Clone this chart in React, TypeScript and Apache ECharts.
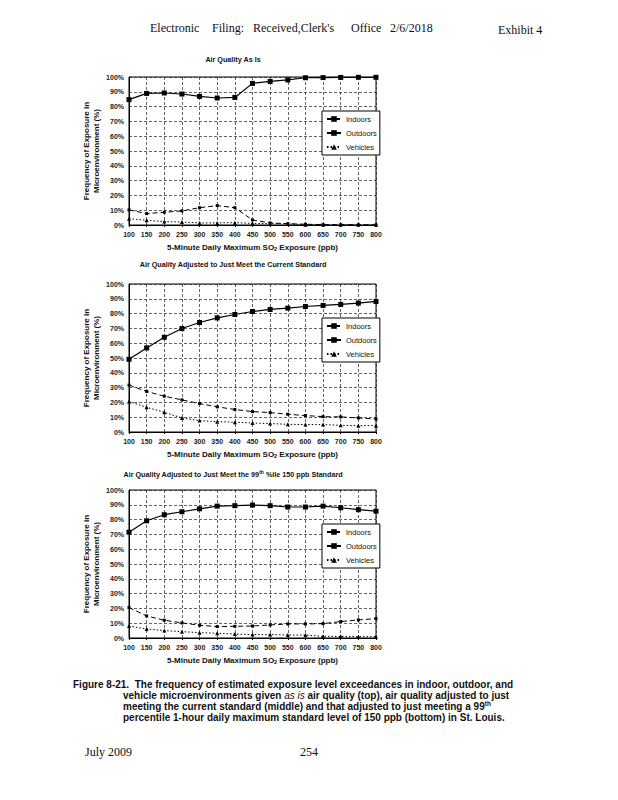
import React, { useEffect, useRef } from "react";
import * as echarts from "echarts";

const xValues = [100, 150, 200, 250, 300, 350, 400, 450, 500, 550, 600, 650, 700, 750, 800];
const seriesNames = ["Indoors", "Outdoors", "Vehicles"];
const chartTitles = [
  "Air Quality As Is",
  "Air Quality Adjusted to Just Meet the Current Standard",
  "Air Quality Adjusted to Just Meet the 99{sup|th} %ile 150 ppb Standard",
];

// Air quality as is
const asIsIndoors = [10.2, 7.7, 8.6, 9.5, 11.7, 13.1, 11.7, 3.4, 1.4, 0.9, 0.5, 0.3, 0.2, 0.2, 0.1];
const asIsOutdoors = [84.7, 88.9, 89.2, 88.5, 86.9, 85.8, 86.2, 95.7, 97.0, 98.0, 99.5, 99.6, 99.7, 99.8, 99.8];
const asIsVehicles = [4.3, 3.2, 2.3, 2.0, 1.4, 1.4, 1.6, 1.1, 0.9, 0.7, 0.2, 0.1, 0.1, 0.1, 0.1];

// Adjusted to current standard
const curIndoors = [31.7, 27.4, 24.2, 21.7, 19.2, 17.0, 15.2, 13.8, 13.1, 12.0, 11.1, 10.4, 10.2, 9.5, 8.8];
const curOutdoors = [49.1, 56.8, 64.0, 69.9, 74.0, 77.1, 79.4, 81.4, 82.8, 83.7, 84.8, 85.5, 86.2, 87.1, 88.2];
const curVehicles = [20.6, 16.7, 13.3, 9.5, 7.7, 7.0, 6.6, 6.1, 5.7, 5.2, 5.0, 5.0, 4.5, 4.3, 4.3];

// Adjusted to 99th %ile 150 ppb standard
const altIndoors = [20.6, 14.9, 12.0, 10.2, 8.6, 7.7, 7.9, 8.1, 8.8, 9.5, 9.5, 9.7, 11.1, 12.2, 13.1];
const altOutdoors = [71.5, 79.2, 83.3, 85.3, 87.3, 89.1, 89.4, 89.8, 89.4, 88.5, 88.5, 89.1, 88.0, 86.7, 85.7];
const altVehicles = [8.1, 6.1, 5.0, 4.3, 3.6, 3.2, 2.7, 2.3, 2.3, 2.0, 2.0, 1.1, 1.1, 0.9, 0.9];

const panels = [
  [asIsIndoors, asIsOutdoors, asIsVehicles],
  [curIndoors, curOutdoors, curVehicles],
  [altIndoors, altOutdoors, altVehicles],
];

const SANS = "'Liberation Sans', Arial, sans-serif";
const SERIF = "'Liberation Serif', 'Times New Roman', serif";

export default function App() {
  const ref = useRef<HTMLDivElement>(null);

  useEffect(() => {
    if (!ref.current) return;
    const chart = echarts.init(ref.current, null, { renderer: "svg" });

    const gridTops = [77, 284, 490];
    const gridLeft = 129;
    const gridW = 247;
    const gridH = 148;

    const grids: any[] = [];
    const xAxes: any[] = [];
    const yAxes: any[] = [];
    const series: any[] = [];
    const legends: any[] = [];
    const titles: any[] = [];

    gridTops.forEach((top, gi) => {
      grids.push({
        left: gridLeft,
        top,
        width: gridW,
        height: gridH,
        show: true,
        borderColor: "#000",
        borderWidth: 1,
        backgroundColor: "transparent",
      });
      xAxes.push({
        gridIndex: gi,
        type: "value",
        min: 100,
        max: 800,
        interval: 50,
        axisLine: { show: true, lineStyle: { color: "#000", width: 1 } },
        axisTick: { show: true, length: 2, lineStyle: { color: "#000" } },
        axisLabel: {
          fontSize: 7,
          fontWeight: "bold",
          color: "#222",
          fontFamily: SANS,
          margin: 6,
        },
        splitLine: { show: true, lineStyle: { color: "#222", type: [3, 2], width: 0.7 } },
        name: "5-Minute Daily Maximum SO{sub|2} Exposure (ppb)",
        nameLocation: "middle",
        nameGap: 17,
        nameTextStyle: {
          fontSize: 8,
          fontWeight: "bold",
          color: "#111",
          fontFamily: SANS,
          rich: {
            sub: { fontSize: 5.5, fontWeight: "bold", fontFamily: SANS, color: "#111", padding: [4, 0, 0, 0] },
          },
        },
      });
      yAxes.push({
        gridIndex: gi,
        type: "value",
        min: 0,
        max: 100,
        interval: 10,
        axisLine: { show: true, lineStyle: { color: "#000", width: 1 } },
        axisTick: { show: false },
        axisLabel: {
          formatter: "{value}%",
          fontSize: 7,
          fontWeight: "bold",
          color: "#222",
          fontFamily: SANS,
          margin: 5,
        },
        splitLine: { show: true, lineStyle: { color: "#222", type: [3, 2], width: 0.7 } },
        name: "Frequency of Exposure in\nMicroenvironment (%)",
        nameLocation: "middle",
        nameRotate: 90,
        nameGap: 28,
        nameTextStyle: {
          fontSize: 8,
          fontWeight: "bold",
          color: "#111",
          fontFamily: SANS,
          lineHeight: 10,
        },
      });
      const [ind, out, veh] = panels[gi];
      series.push(
        {
          name: seriesNames[0],
          type: "line",
          xAxisIndex: gi,
          yAxisIndex: gi,
          data: xValues.map((x, i) => [x, ind[i]]),
          symbol: "rect",
          symbolSize: 3,
          itemStyle: { color: "#000" },
          lineStyle: { color: "#000", width: 1, type: [5, 3] },
        },
        {
          name: seriesNames[1],
          type: "line",
          xAxisIndex: gi,
          yAxisIndex: gi,
          data: xValues.map((x, i) => [x, out[i]]),
          symbol: "rect",
          symbolSize: 5,
          itemStyle: { color: "#000" },
          lineStyle: { color: "#000", width: 1.2, type: "solid" },
        },
        {
          name: seriesNames[2],
          type: "line",
          xAxisIndex: gi,
          yAxisIndex: gi,
          data: xValues.map((x, i) => [x, veh[i]]),
          symbol: "triangle",
          symbolSize: 4,
          itemStyle: { color: "#000" },
          lineStyle: { color: "#000", width: 1, type: [1.5, 2] },
        }
      );
      legends.push({
        data: seriesNames,
        orient: "vertical",
        left: 322,
        top: top + 34,
        padding: [4, 3, 4, 4],
        itemGap: 6,
        itemWidth: 14,
        itemHeight: 7,
        backgroundColor: "#fff",
        borderColor: "#000",
        borderWidth: 1,
        selectedMode: false,
        textStyle: { fontSize: 7.5, color: "#111", fontFamily: SANS },
      });
      titles.push({
        text: chartTitles[gi],
        left: 228,
        textAlign: "center",
        top: [51, 256, 464][gi],
        textStyle: {
          fontSize: 7.2,
          fontWeight: "bold",
          color: "#111",
          fontFamily: SANS,
          rich: {
            sup: { fontSize: 5, fontWeight: "bold", fontFamily: SANS, color: "#111", padding: [0, 0, 5, 0] },
          },
        },
      });
    });

    const hdr = (text: string, x: number, y: number, size = 12) => ({
      type: "text",
      x,
      y,
      style: { text, fontSize: size, fontFamily: SERIF, fill: "#111", textVerticalAlign: "middle" },
    });

    const captionStyle = {
      fontSize: 10,
      fontWeight: "bold",
      fontFamily: SANS,
      fill: "#111",
      textVerticalAlign: "middle",
    };

    const graphic: any[] = [
      hdr("Electronic", 150, 28),
      hdr("Filing:", 212, 28),
      hdr("Received,Clerk's", 253, 28),
      hdr("Office", 351, 28),
      hdr("2/6/2018", 390, 28),
      hdr("Exhibit 4", 498, 30),
      hdr("July 2009", 85, 752),
      hdr("254", 300, 752),
      {
        type: "text",
        x: 73,
        y: 684,
        style: {
          ...captionStyle,
          text: "Figure 8-21.  The frequency of estimated exposure level exceedances in indoor, outdoor, and",
        },
      },
      {
        type: "text",
        x: 123,
        y: 695,
        style: {
          ...captionStyle,
          text: "vehicle microenvironments given {i|as is} air quality (top), air quality adjusted to just",
          rich: { i: { fontSize: 10, fontWeight: "normal", fontStyle: "italic", fontFamily: SANS, fill: "#111" } },
        },
      },
      {
        type: "text",
        x: 123,
        y: 706,
        style: {
          ...captionStyle,
          text: "meeting the current standard (middle) and that adjusted to just meeting a 99{sup|th}",
          rich: { sup: { fontSize: 6.5, fontWeight: "bold", fontFamily: SANS, fill: "#111", padding: [0, 0, 6, 0] } },
        },
      },
      {
        type: "text",
        x: 123,
        y: 717,
        style: {
          ...captionStyle,
          text: "percentile 1-hour daily maximum standard level of 150 ppb (bottom) in St. Louis.",
        },
      },
    ];

    chart.setOption({
      animation: false,
      backgroundColor: "#fff",
      title: titles,
      grid: grids,
      xAxis: xAxes,
      yAxis: yAxes,
      legend: legends,
      series,
      graphic,
    });

    return () => chart.dispose();
  }, []);

  return (
    <div
      ref={ref}
      style={{ position: "absolute", left: 0, top: 0, width: 618, height: 800 }}
    />
  );
}
